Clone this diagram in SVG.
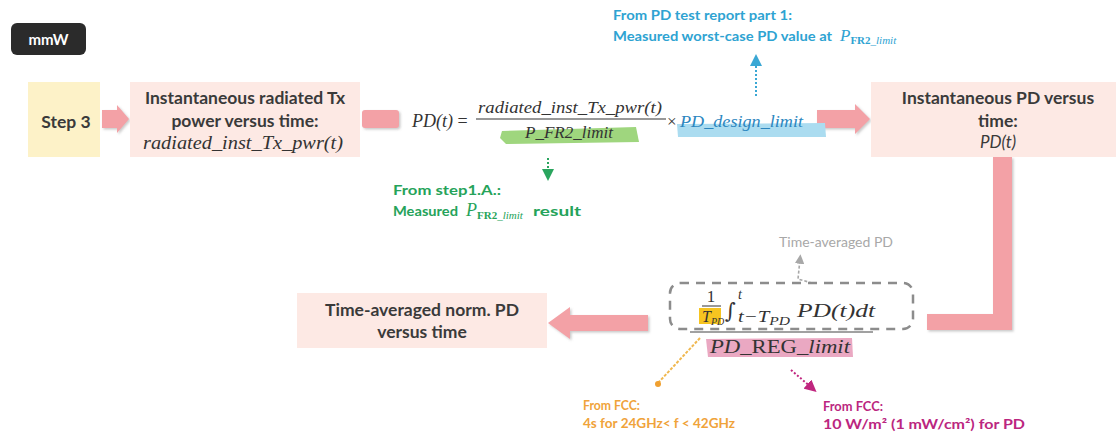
<svg xmlns="http://www.w3.org/2000/svg" width="1116" height="435" viewBox="0 0 1116 435">
<defs>
<filter id="sh" x="-10%" y="-10%" width="130%" height="130%"><feDropShadow dx="1.5" dy="1.5" stdDeviation="1" flood-color="#888" flood-opacity="0.45"/></filter>
<marker id="ahC" markerWidth="6" markerHeight="6" refX="3" refY="3" orient="auto"><path d="M0,0 L6,3 L0,6 z" fill="#3aa7d4"/></marker>
<marker id="ahG" markerWidth="6" markerHeight="6" refX="3" refY="3" orient="auto"><path d="M0,0 L6,3 L0,6 z" fill="#2aa55e"/></marker>
<marker id="ahM" markerWidth="6" markerHeight="6" refX="3" refY="3" orient="auto"><path d="M0,0 L6,3 L0,6 z" fill="#c0267f"/></marker>
<marker id="ahY" markerWidth="6" markerHeight="6" refX="3" refY="3" orient="auto"><path d="M0,0 L6,3 L0,6 z" fill="#a8a8a8"/></marker>
</defs>
<style>
.box{fill:#fde9e4}
.t{font-family:Lato,"Liberation Sans",sans-serif;font-weight:700;font-size:17.5px;fill:#3a3a3a;text-anchor:middle}
.m{font-family:"Liberation Serif","DejaVu Serif",serif;font-style:italic;fill:#333}
.ann{font-family:Lato,"Liberation Sans",sans-serif;font-weight:700;font-size:14px}
.arr{fill:#f3a1a6;filter:url(#sh)}
</style>
<rect width="1116" height="435" fill="#ffffff"/>

<g id="badge">
<rect x="11" y="23" width="75" height="32" rx="6" fill="#2b2b2b"/>
<text x="48.5" y="45" font-family="Lato,'Liberation Sans',sans-serif" font-weight="700" font-size="15" fill="#fff" text-anchor="middle">mmW</text>
</g>

<g id="connectors">
<path class="arr" d="M102,110 L117,110 L117,105 L129,119 L117,133 L117,128 L102,128 z"/>
<rect class="arr" x="362" y="110" width="37" height="18" rx="3"/>
<path class="arr" d="M817,110 L855,110 L855,104 L870,119 L855,134 L855,128 L817,128 z"/>
<path class="arr" d="M993,157 L1012,157 L1012,330 L927,330 L927,314 L993,314 z"/>
<path class="arr" d="M648,315 L570,315 L570,307 L548,323 L570,339 L570,331 L648,331 z"/>
<line x1="756" y1="96" x2="756" y2="60" stroke="#3aa7d4" stroke-width="2" stroke-dasharray="2 2" marker-end="url(#ahC)"/>
<line x1="548" y1="158" x2="548" y2="175" stroke="#2aa55e" stroke-width="2" stroke-dasharray="2 2" marker-end="url(#ahG)"/>
<path d="M812,283 L798,279 L800,259" fill="none" stroke="#a8a8a8" stroke-width="1.6" stroke-dasharray="3 2" marker-end="url(#ahY)"/>
<line x1="700" y1="338" x2="658" y2="383" stroke="#f0b850" stroke-width="2" stroke-dasharray="3 1.5"/>
<circle cx="658" cy="384" r="3" fill="#f0a030"/>
<line x1="791" y1="370" x2="812" y2="388" stroke="#c0267f" stroke-width="2" stroke-dasharray="2 2" marker-end="url(#ahM)"/>
</g>

<g id="step3">
<rect x="28" y="82" width="72" height="75" fill="#fdf2c8"/>
<text class="t" x="66" y="128">Step 3</text>
</g>

<g id="txpower">
<rect class="box" x="130" y="82" width="230" height="75"/>
<text class="t" x="245" y="104">Instantaneous radiated Tx</text>
<text class="t" x="245" y="127">power versus time:</text>
<text class="m" x="243" y="149" font-size="18" text-anchor="middle" textLength="200" lengthAdjust="spacingAndGlyphs">radiated_inst_Tx_pwr(t)</text>
</g>

<g id="formula1">
<path d="M502,131 L636,127 L639,142 L506,144 L500,138 z" fill="#9fd67e"/>
<path d="M677,124 L825,123 L826,137 L678,137 z" fill="#abdcf0"/>
<text class="m" x="412" y="127" font-size="18">PD(t) <tspan font-style="normal">=</tspan></text>
<text class="m" x="570" y="113" font-size="17" text-anchor="middle" textLength="184" lengthAdjust="spacingAndGlyphs">radiated_inst_Tx_pwr(t)</text>
<line x1="476" y1="119" x2="666" y2="119" stroke="#333" stroke-width="1.2"/>
<text class="m" x="569" y="138" font-size="17" text-anchor="middle" textLength="88" lengthAdjust="spacingAndGlyphs">P_FR2_limit</text>
<text x="667" y="127" font-family="'Liberation Serif',serif" font-size="17" fill="#333">×</text>
<text class="m" x="680" y="127" font-size="17" style="fill:#2b86bf" textLength="123" lengthAdjust="spacingAndGlyphs">PD_design_limit</text>
</g>

<g id="note-cyan">
<text class="ann" x="613" y="20" fill="#2ea3d2" textLength="179" lengthAdjust="spacingAndGlyphs">From PD test report part 1:</text>
<text class="ann" x="613" y="41" fill="#2ea3d2"><tspan textLength="219" lengthAdjust="spacingAndGlyphs">Measured worst-case PD value at</tspan><tspan x="840" font-family="'Liberation Serif',serif" font-style="italic" font-weight="400" font-size="17">P</tspan><tspan font-family="'Liberation Serif',serif" font-size="11" dy="3">FR2</tspan><tspan font-family="'Liberation Serif',serif" font-style="italic" font-weight="400" font-size="11">_limit</tspan></text>
</g>

<g id="note-green">
<text class="ann" x="393" y="195" fill="#25a35a" font-size="16" textLength="108" lengthAdjust="spacingAndGlyphs">From step1.A.:</text>
<text class="ann" x="393" y="216" fill="#25a35a" font-size="16"><tspan textLength="65" lengthAdjust="spacingAndGlyphs">Measured</tspan><tspan x="466" font-family="'Liberation Serif',serif" font-style="italic" font-weight="400" font-size="18">P</tspan><tspan font-family="'Liberation Serif',serif" font-size="11" dy="3">FR2</tspan><tspan font-family="'Liberation Serif',serif" font-style="italic" font-weight="400" font-size="11">_limit</tspan><tspan x="533" dy="-3" textLength="48" lengthAdjust="spacingAndGlyphs">result</tspan></text>
</g>

<g id="pdtime">
<rect class="box" x="871" y="82" width="245" height="75"/>
<text class="t" x="998" y="104">Instantaneous PD versus</text>
<text class="t" x="998" y="127">time:</text>
<text x="998" y="148" font-family="Lato,'Liberation Sans',sans-serif" font-style="italic" font-size="17" fill="#3a3a3a" text-anchor="middle">PD(t)</text>
</g>

<g id="formula2">
<text x="836" y="247" font-family="Lato,'Liberation Sans',sans-serif" font-size="14" fill="#a8a8a8" text-anchor="middle">Time-averaged PD</text>
<rect x="670" y="283" width="243" height="46" rx="10" fill="none" stroke="#8c8c8c" stroke-width="2.5" stroke-dasharray="9 7"/>
<rect x="699" y="308" width="22" height="16" fill="#f6c420"/>
<path d="M706,339 L852,338 L853,357 L708,357 z" fill="#eaa8c2"/>
<text x="711" y="302" font-family="'Liberation Serif',serif" font-size="17" fill="#333" text-anchor="middle">1</text>
<line x1="702" y1="306" x2="721" y2="306" stroke="#333" stroke-width="1"/>
<text class="m" x="702" y="322" font-size="16">T<tspan font-size="10" dy="3">PD</tspan></text>
<text x="725" y="318" font-family="'DejaVu Serif',serif" font-size="21" fill="#333">∫</text>
<text class="m" x="738" y="299" font-size="14">t</text>
<text class="m" x="738" y="322" font-size="16" textLength="52" lengthAdjust="spacingAndGlyphs">t−T<tspan font-size="12" dy="3">PD</tspan></text>
<text class="m" x="797" y="317" font-size="19" textLength="78" lengthAdjust="spacingAndGlyphs">PD(t)dt</text>
<line x1="690" y1="332" x2="873" y2="332" stroke="#444" stroke-width="1.2"/>
<text class="m" x="780" y="353" font-size="18" text-anchor="middle" textLength="140" lengthAdjust="spacingAndGlyphs">PD<tspan font-style="normal">_REG_</tspan>limit</text>
</g>

<g id="timeavg">
<rect class="box" x="297" y="293" width="250" height="55"/>
<text class="t" x="422" y="316">Time-averaged norm. PD</text>
<text class="t" x="422" y="338">versus time</text>
</g>

<g id="note-orange">
<text class="ann" x="583" y="410" fill="#f0a33a" font-size="13.5" textLength="57" lengthAdjust="spacingAndGlyphs">From FCC:</text>
<text class="ann" x="583" y="428" fill="#f0a33a" font-size="13.5" textLength="152" lengthAdjust="spacingAndGlyphs">4s for 24GHz&lt; f &lt; 42GHz</text>
</g>

<g id="note-magenta">
<text class="ann" x="823" y="411" fill="#bb2680" font-size="14.5" textLength="60" lengthAdjust="spacingAndGlyphs">From FCC:</text>
<text class="ann" x="823" y="429" fill="#bb2680" font-size="14.5" textLength="202" lengthAdjust="spacingAndGlyphs">10 W/m² (1 mW/cm²) for PD</text>
</g>
</svg>
